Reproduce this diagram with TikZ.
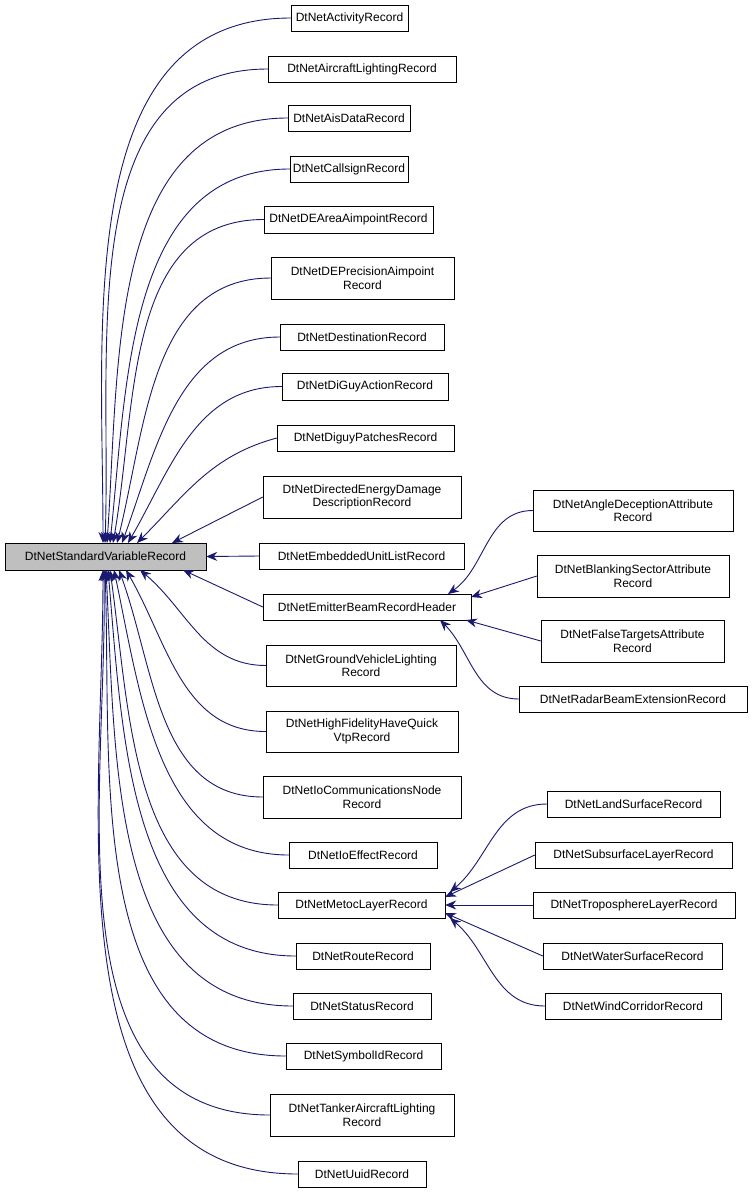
\documentclass[tikz,border=0pt]{standalone}
\usepackage{fontspec}
\setmainfont{Liberation Sans}
\usetikzlibrary{arrows.meta}
\definecolor{mblue}{RGB}{25,25,112}
\begin{document}
\begin{tikzpicture}[x=1pt,y=-1pt,
 bx/.style={draw=black,fill=white,align=center,inner sep=0pt,font=\fontsize{12}{13.5}\selectfont},
 e/.style={draw=mblue,line width=0.9pt,{Stealth[length=11pt,width=9pt,fill=mblue]}-}]
\useasboundingbox (0,0) rectangle (752,1195);
\newcommand\bx[6]{\node[bx,minimum width=#4-#2,minimum height=#5-#3] (#1) at ({(#2+#4)/2},{(#3+#5)/2}) {#6};}
\node[bx,fill=black!25,minimum width=201,minimum height=27] (root) at (105.5,556.5) {DtNetStandardVariableRecord};
\bx{a1}{291}{5}{408}{31}{DtNetActivityRecord}
\bx{a2}{268}{56}{456}{82}{DtNetAircraftLightingRecord}
\bx{a3}{288}{105}{410}{131}{DtNetAisDataRecord}
\bx{a4}{290}{156}{408}{182}{DtNetCallsignRecord}
\bx{a5}{264}{206}{433}{233}{DtNetDEAreaAimpointRecord}
\bx{a6}{271}{257}{454}{299}{DtNetDEPrecisionAimpoint\\Record}
\bx{a7}{280}{324}{444}{350}{DtNetDestinationRecord}
\bx{a8}{282}{373}{448}{400}{DtNetDiGuyActionRecord}
\bx{a9}{277}{425}{454}{451}{DtNetDiguyPatchesRecord}
\bx{a10}{263}{476}{461}{518}{DtNetDirectedEnergyDamage\\DescriptionRecord}
\bx{a11}{259}{543}{464}{569}{DtNetEmbeddedUnitListRecord}
\bx{a12}{263}{594}{471}{620}{DtNetEmitterBeamRecordHeader}
\bx{a13}{266}{645}{456}{686}{DtNetGroundVehicleLighting\\Record}
\bx{a14}{266}{711}{458}{752}{DtNetHighFidelityHaveQuick\\VtpRecord}
\bx{a15}{263}{776}{461}{818}{DtNetIoCommunicationsNode\\Record}
\bx{a16}{289}{842}{437}{868}{DtNetIoEffectRecord}
\bx{a17}{278}{892}{445}{918}{DtNetMetocLayerRecord}
\bx{a18}{296}{943}{430}{969}{DtNetRouteRecord}
\bx{a19}{293}{993}{431}{1019}{DtNetStatusRecord}
\bx{a20}{286}{1043}{441}{1069}{DtNetSymbolIdRecord}
\bx{a21}{270}{1094}{454}{1136}{DtNetTankerAircraftLighting\\Record}
\bx{a22}{298}{1161}{426}{1187}{DtNetUuidRecord}
\bx{b1}{533}{490}{733}{531}{DtNetAngleDeceptionAttribute\\Record}
\bx{b2}{537}{555}{729}{597}{DtNetBlankingSectorAttribute\\Record}
\bx{b3}{541}{620}{724}{662}{DtNetFalseTargetsAttribute\\Record}
\bx{b4}{519}{686}{747}{712}{DtNetRadarBeamExtensionRecord}
\bx{c1}{547}{791}{720}{817}{DtNetLandSurfaceRecord}
\bx{c2}{535}{842}{732}{868}{DtNetSubsurfaceLayerRecord}
\bx{c3}{533}{892}{735}{918}{DtNetTroposphereLayerRecord}
\bx{c4}{543}{943}{722}{969}{DtNetWaterSurfaceRecord}
\bx{c5}{545}{993}{721}{1019}{DtNetWindCorridorRecord}
% upper edges
\draw[e] (103,543) to[out=90,in=180] (a1.west);
\draw[e] (105,543) to[out=88,in=180] (a2.west);
\draw[e] (107,543) to[out=86,in=180] (a3.west);
\draw[e] (110,543) to[out=84,in=180] (a4.west);
\draw[e] (113,543) to[out=80,in=180] (a5.west);
\draw[e] (117,543) to[out=76,in=180] (a6.west);
\draw[e] (122,543) to[out=70,in=180] (a7.west);
\draw[e] (128,543) to[out=60,in=180] (a8.west);
\draw[e] (137,543) to[out=45,in=195] (a9.west);
\draw[e] (172,543) -- (a10.west);
\draw[e] (root.east) -- (a11.west);
\draw[e] (183,570) -- (a12.west);
% lower edges
\draw[e] (140,570) to[out=-40,in=180] (a13.west);
\draw[e] (126,570) to[out=-60,in=180] (a14.west);
\draw[e] (119,570) to[out=-70,in=180] (a15.west);
\draw[e] (114,570) to[out=-78,in=180] (a16.west);
\draw[e] (110,570) to[out=-82,in=180] (a17.west);
\draw[e] (108,570) to[out=-85,in=180] (a18.west);
\draw[e] (106,570) to[out=-87,in=180] (a19.west);
\draw[e] (105,570) to[out=-88,in=180] (a20.west);
\draw[e] (104,570) to[out=-89,in=180] (a21.west);
\draw[e] (103,570) to[out=-90,in=180] (a22.west);
% emitter children
\draw[e] (448,594) to[out=35,in=180] (b1.west);
\draw[e] (471,597) -- (b2.west);
\draw[e] (466,620) -- (b3.west);
\draw[e] (440,620) to[out=-45,in=180] (b4.west);
% metoc children
\draw[e] (450,892) to[out=40,in=180] (c1.west);
\draw[e] (445,897) -- (c2.west);
\draw[e] (a17.east) -- (c3.west);
\draw[e] (445,913) -- (c4.west);
\draw[e] (450,918) to[out=-40,in=180] (c5.west);
\end{tikzpicture}
\end{document}
